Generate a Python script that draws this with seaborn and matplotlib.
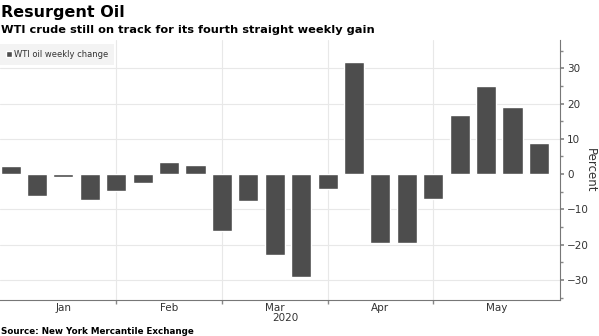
import matplotlib
matplotlib.use("Agg")
import matplotlib.pyplot as plt
import seaborn as sns
import pandas as pd
import numpy as np
from matplotlib.ticker import FixedLocator, MultipleLocator, NullFormatter

# Weekly WTI price change (Friday closes, 2020)
weeks = ["2020-01-03", "2020-01-10", "2020-01-17", "2020-01-24", "2020-01-31",
         "2020-02-07", "2020-02-14", "2020-02-21", "2020-02-28",
         "2020-03-06", "2020-03-13", "2020-03-20", "2020-03-27",
         "2020-04-03", "2020-04-10", "2020-04-17", "2020-04-24",
         "2020-05-01", "2020-05-08", "2020-05-15", "2020-05-22"]
weekly_change = [2.3, -6.2, -0.8, -7.4, -4.9,
                 -2.4, 3.5, 2.5, -16.2,
                 -7.7, -23.0, -29.3, -4.1,
                 31.7, -19.6, -19.6, -7.2,
                 16.7, 24.9, 19.0, 8.8]
y_ticks = [-30, -20, -10, 0, 10, 20, 30]

BAR = "#4d4d4d"
GRID = "#e8e8e8"
TEXT = "#333333"

df = pd.DataFrame({"week": pd.to_datetime(weeks), "change": weekly_change})
df["pos"] = np.arange(len(df))

sns.set_theme(style="white")
plt.rcParams["font.family"] = ["DejaVu Sans"]

fig = plt.figure(figsize=(5.99, 3.36), dpi=100)
ax = fig.add_axes([0.0, 0.107, 0.935, 0.774])

sns.barplot(data=df, x="pos", y="change", color=BAR, saturation=1,
            width=0.76, native_scale=True, label="WTI oil weekly change",
            zorder=3, ax=ax, legend=False)

x_right = 20.8
ax.set_xlim(-0.4, x_right)
ax.set_ylim(-35.7, 38.0)

# Month boundaries sit at the last week of each month
month = df["week"].dt.month
ends = [int(df.index[month == m].max()) for m in month.unique()[:-1]]
edges = [0] + ends + [x_right]
centers = [(a + b) / 2 for a, b in zip(edges[:-1], edges[1:])]
labels = [d.strftime("%b") for d in df.groupby(month)["week"].first()]

ax.xaxis.set_major_locator(FixedLocator(centers))
ax.set_xticklabels(labels)
ax.xaxis.set_minor_locator(FixedLocator(ends))
ax.xaxis.set_minor_formatter(NullFormatter())
ax.tick_params(axis="x", which="major", length=0, labelsize=7.5,
               labelcolor=TEXT, pad=2)
ax.tick_params(axis="x", which="minor", length=3, color="#888888",
               direction="out", bottom=True)
for e in ends:
    ax.axvline(e, color=GRID, lw=0.8, zorder=0)

ax.yaxis.tick_right()
ax.yaxis.set_label_position("right")
ax.set_yticks(y_ticks)
ax.yaxis.set_minor_locator(MultipleLocator(5))
ax.tick_params(axis="y", which="major", length=3, labelsize=7.5,
               labelcolor=TEXT, color="#888888", pad=2, right=True)
ax.tick_params(axis="y", which="minor", length=2, color="#888888", right=True)
for t in y_ticks:
    if t != 0:
        ax.axhline(t, color=GRID, lw=0.8, zorder=0)
ax.set_ylabel("Percent", rotation=270, labelpad=6, fontsize=8.5, color=TEXT)
ax.set_xlabel("")

for s in ["left", "top"]:
    ax.spines[s].set_visible(False)
for s in ["right", "bottom"]:
    ax.spines[s].set_color("#777777")
    ax.spines[s].set_linewidth(0.8)

ax.text(10.4, -0.048, "2020", transform=ax.get_xaxis_transform(),
        ha="center", va="top", fontsize=7.5, color=TEXT)

leg = ax.legend(loc="upper left", bbox_to_anchor=(0.0, 0.985),
                fontsize=6.0, frameon=True, fancybox=False,
                handlelength=0.7, handleheight=0.7, handletextpad=0.3,
                borderpad=0.7, borderaxespad=0.0)
leg.get_frame().set_facecolor("#f0f0f0")
leg.get_frame().set_edgecolor("none")
for t in leg.get_texts():
    t.set_color(TEXT)

fig.text(0.002, 0.962, "Resurgent Oil", fontsize=11.5, fontweight="bold",
         color="black", ha="left", va="center")
fig.text(0.002, 0.91, "WTI crude still on track for its fourth straight weekly gain",
         fontsize=8.2, fontweight="bold", color="black", ha="left", va="center")
fig.text(0.002, 0.014, "Source: New York Mercantile Exchange",
         fontsize=6.3, fontweight="bold", color="black", ha="left", va="center")

fig.savefig("out.png", dpi=100)
